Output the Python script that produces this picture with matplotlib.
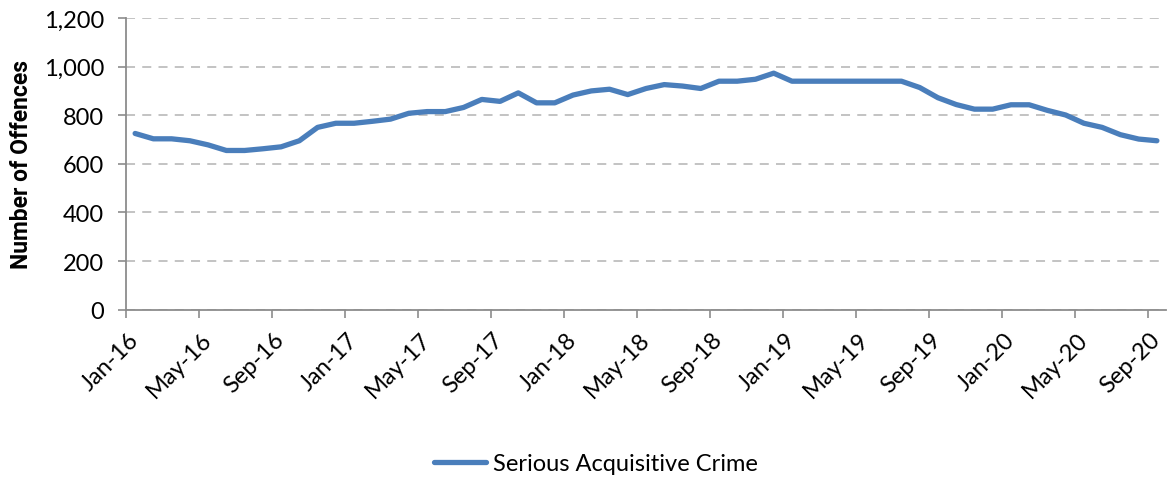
import matplotlib
matplotlib.use("Agg")
import matplotlib.pyplot as plt
from matplotlib.ticker import FuncFormatter

plt.rcParams['font.family'] = ['Lato', 'DejaVu Sans']

# Monthly offences, Jan-16 .. Sep-20
months = ['Jan', 'Feb', 'Mar', 'Apr', 'May', 'Jun', 'Jul', 'Aug', 'Sep', 'Oct', 'Nov', 'Dec']
month_labels = [f"{m}-{y}" for y in range(16, 21) for m in months][:57]

offences = [725, 703, 703, 695, 678, 655, 655, 662, 670, 695,
            750, 767, 767, 775, 784, 808, 815, 815, 832, 865,
            857, 892, 851, 851, 883, 900, 907, 885, 910, 926,
            920, 910, 940, 940, 948, 973, 940, 940, 940, 940,
            940, 940, 940, 914, 872, 844, 825, 825, 843, 843,
            820, 801, 767, 750, 720, 702, 695]

y_ticks = [0, 200, 400, 600, 800, 1000, 1200]
series_name = 'Serious Acquisitive Crime'

line_col = '#4A7EBB'
axis_col = '#8C8C8C'
grid_col = '#BEBEBE'
fs = 17

fig = plt.figure(figsize=(11.68, 4.81), dpi=100)
ax = fig.add_axes([126 / 1168, 1 - 310.7 / 481, 1040 / 1168, (310.7 - 19) / 481])

x = list(range(len(offences)))
ax.plot(x, offences, color=line_col, lw=3.8, solid_capstyle='round',
        solid_joinstyle='round', label=series_name, zorder=3)

ax.set_xlim(-0.5, len(offences) - 0.5)
ax.set_ylim(0, 1200)
ax.set_yticks(y_ticks)
ax.yaxis.set_major_formatter(FuncFormatter(lambda v, p: f"{int(v):,}"))

# labels at category centres, tick marks on category boundaries
label_pos = list(range(0, len(offences), 4))
ax.set_xticks(label_pos)
ax.set_xticklabels([month_labels[i] for i in label_pos], rotation=45,
                   ha='right', va='center', rotation_mode='anchor')
ax.set_xticks([i - 0.5 for i in label_pos], minor=True)
ax.tick_params(axis='x', which='major', length=0, pad=19, labelsize=fs)
ax.tick_params(axis='x', which='minor', length=5.8, width=1.2, color=axis_col)
ax.tick_params(axis='y', length=5.8, width=1.2, color=axis_col, labelsize=fs, pad=10)

for s in ['top', 'right']:
    ax.spines[s].set_visible(False)
for s in ['left', 'bottom']:
    ax.spines[s].set_color(axis_col)
    ax.spines[s].set_linewidth(1.3)

ax.yaxis.grid(True, color=grid_col, lw=1.3, ls=(0, (5, 4)))
ax.set_axisbelow(True)

ax.set_ylabel('Number of Offences', fontsize=16.5, fontweight='bold',
              family=['Roboto', 'DejaVu Sans'], labelpad=8)

fig.legend(loc='center', bbox_to_anchor=(596 / 1168, 1 - 465 / 481), frameon=False,
           fontsize=fs, handlelength=2.2, handletextpad=0.3)

fig.savefig('out.png', dpi=100)
